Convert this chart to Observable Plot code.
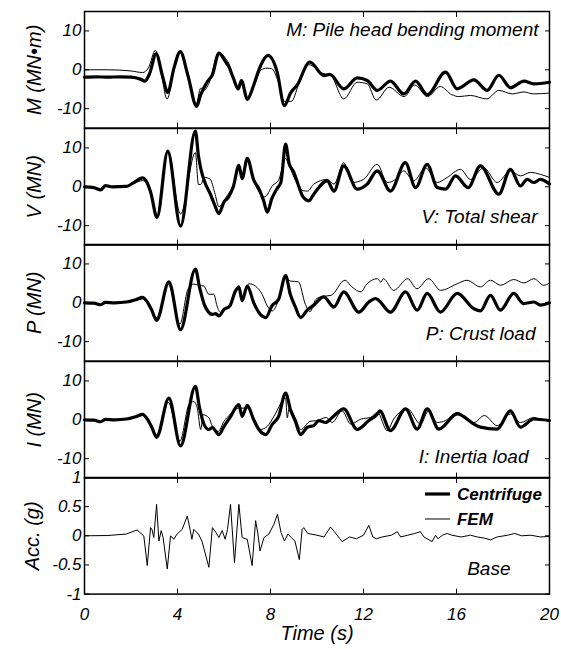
<!DOCTYPE html>
<html><head><meta charset="utf-8">
<script src="https://cdn.jsdelivr.net/npm/d3@7"></script>
<script src="https://cdn.jsdelivr.net/npm/@observablehq/plot@0.6"></script>
<style>
body{margin:0;background:#fff;}
#chart{position:relative;width:561px;height:649px;overflow:hidden;}
#chart svg{position:absolute;left:0;}
</style></head><body><div id="chart"></div>
<script>
// ---- tick labels ----
const timeTicks = [0, 4, 8, 12, 16, 20];
const forceTicks = [-10, 0, 10];
const accTicks = [-1, -0.5, 0, 0.5, 1];

// ---- M: pile head bending moment (MN·m), [time s, value] ----
const mCentrifuge = [[0,-1.9],[0.5,-1.8],[1.0,-1.9],[1.5,-1.8],[2.0,-1.9],[2.4,-2.4],[2.6,-2.9],[2.8,-1.0],[3.08,4.1],[3.35,-1.5],[3.58,-5.8],[3.85,0.5],[4.12,4.7],[4.45,-1.5],[4.82,-9.4],[5.0,-6.4],[5.29,-3.0],[5.5,-1.3],[5.78,4.3],[6.06,2.1],[6.2,0.9],[6.4,-2.1],[6.61,-4.9],[6.75,-2.8],[7.0,-7.5],[7.28,-3.9],[7.5,0],[7.9,3.7],[8.28,-0.4],[8.6,-9.2],[8.86,-6.0],[9.15,-3.9],[9.69,2.0],[10.3,-1.5],[10.55,-1.2],[11.15,-4.9],[11.73,-2.1],[12.16,-2.75],[12.59,-5.3],[13.16,-2.9],[13.73,-6.2],[14.24,-2.9],[14.74,-6.4],[15.53,-0.6],[16.03,-4.9],[16.75,-2.6],[17.32,-5.3],[17.82,-1.4],[18.32,-4.6],[18.9,-2.9],[19.33,-3.6],[20,-3.2]];
const mFEM = [[0,0],[1,0],[2,-0.3],[2.5,-0.7],[2.75,0.5],[3.05,5.0],[3.3,-1.0],[3.55,-7.5],[3.85,0],[4.1,4.7],[4.45,-1.0],[4.8,-8.8],[5.0,-4.7],[5.15,-5.2],[5.35,-3.5],[5.78,4.5],[6.06,3.0],[6.25,1.0],[6.4,-2.0],[6.6,-5.2],[6.75,-3.0],[7.0,-8.0],[7.3,-4.0],[7.6,0],[7.85,0.4],[8.05,0.3],[8.3,-2.5],[8.6,-8.1],[8.9,-8.1],[9.2,-4.0],[9.65,1.3],[10.2,-0.8],[10.6,-1.5],[11.15,-7.5],[11.73,-3.2],[12.16,-3.6],[12.55,-7.8],[13.1,-4.5],[13.75,-6.9],[14.2,-3.9],[14.75,-6.9],[15.3,-4.3],[15.8,-6.4],[16.1,-6.9],[16.6,-6.6],[17.3,-7.5],[17.82,-5.3],[18.4,-6.2],[18.9,-5.7],[19.3,-6.2],[20,-6.0]];

// ---- V: total shear (MN) ----
const vCentrifuge = [[0,0],[0.4,-0.2],[0.7,-0.8],[0.9,0.3],[1.2,0],[1.8,0.1],[2.1,1.0],[2.5,2.3],[2.65,1.5],[2.85,-1.5],[3.12,-7.9],[3.58,9.2],[4.13,-10.1],[4.77,14.3],[4.9,8],[5.0,4.7],[5.2,0.8],[5.4,-1.7],[5.6,-4.7],[5.78,-6.9],[6.0,-3.9],[6.2,-2.6],[6.4,0],[6.64,5.5],[6.78,2.1],[7.0,7.3],[7.28,1.7],[7.5,-0.5],[7.7,-3.5],[7.86,-6.5],[8.06,-3.0],[8.28,-0.5],[8.45,1.2],[8.65,11.0],[8.8,6.0],[9.0,3.8],[9.2,0.4],[9.4,-2.6],[9.65,-3.6],[9.86,-1.9],[10.44,1.5],[10.73,-1.1],[11.15,5.4],[11.73,-0.6],[12.16,0.7],[12.59,4.1],[13.16,-1.1],[13.8,6.2],[14.24,-0.2],[14.74,5.8],[15.17,-0.2],[15.53,-0.6],[15.96,2.8],[16.5,-0.2],[17.03,5.4],[17.82,-1.9],[18.32,4.5],[18.75,0.2],[19.04,1.9],[19.33,1.1],[19.6,1.9],[20,0.7]];
const vFEM = [[0,0],[0.4,-0.2],[0.7,-0.6],[0.9,0.2],[1.2,0],[1.8,0.1],[2.1,0.8],[2.5,1.6],[2.65,1.0],[2.85,-1.5],[3.12,-7.5],[3.58,8.8],[4.13,-7.0],[4.77,8.8],[4.9,0.6],[5.0,0.6],[5.15,2.4],[5.4,2.0],[5.6,-1.5],[5.78,-5.1],[6.1,-2.6],[6.4,0.5],[6.64,5.0],[6.78,2.3],[7.0,6.8],[7.28,1.5],[7.55,-1.7],[7.75,-2.6],[8.1,0.4],[8.35,1.7],[8.65,7.3],[8.8,5.5],[9.1,1.3],[9.4,-1.0],[9.6,-1.1],[9.86,0.7],[10.44,1.9],[10.73,0.7],[11.15,6.2],[11.51,1.1],[12.0,1.9],[12.59,5.8],[13.02,1.1],[13.38,1.9],[13.73,4.1],[14.16,1.5],[14.67,4.9],[15.17,1.1],[15.6,2.4],[16.17,4.5],[16.6,1.9],[17.17,4.9],[17.75,1.1],[18.32,4.1],[18.75,2.8],[19.18,3.7],[19.61,3.2],[20,2.4]];

// ---- P: crust load (MN) ----
const pCentrifuge = [[0,0],[0.4,-0.1],[0.7,-0.5],[0.9,0.1],[1.3,0],[1.8,0.2],[2.2,0.8],[2.5,1.4],[2.7,0.2],[2.9,-2.0],[3.1,-4.5],[3.63,5.4],[4.13,-6.9],[4.77,8.7],[4.95,3.9],[5.15,-0.4],[5.3,-2.1],[5.5,-3.0],[5.65,-2.8],[5.78,-3.4],[6.0,-1.7],[6.25,-0.8],[6.49,3.0],[6.64,4.1],[6.78,0.5],[7.0,4.3],[7.28,0],[7.5,-2.5],[7.8,-3.8],[8.06,-0.8],[8.35,0.9],[8.65,7.0],[8.85,2.2],[9.05,-0.8],[9.3,-3.8],[9.58,-1.9],[9.86,-0.6],[10.29,1.5],[10.73,-1.1],[11.15,2.8],[11.8,-2.4],[12.23,0.2],[12.52,1.1],[12.66,0.6],[13.16,-2.4],[13.81,2.8],[14.31,-1.9],[14.74,2.4],[15.31,-2.4],[16.03,2.4],[16.74,-1.5],[17.03,-2.1],[17.46,1.9],[17.89,-1.9],[18.46,2.4],[18.89,-0.2],[19.33,0.2],[19.61,-0.6],[20,0]];
const pFEM = [[0,0],[0.4,-0.1],[0.7,-0.4],[0.9,0.1],[1.3,0],[1.8,0.1],[2.2,0.6],[2.5,1.0],[2.7,0],[2.9,-2.0],[3.1,-3.8],[3.6,4.8],[4.1,-5.5],[4.45,3.5],[4.7,4.8],[4.95,4.5],[5.13,4.3],[5.35,2.2],[5.56,2.2],[5.7,-0.8],[5.85,-2.5],[6.05,-1.7],[6.25,-0.4],[6.5,2.8],[6.64,4.0],[6.8,1.0],[7.07,4.9],[7.35,4.3],[7.64,2.2],[7.86,-0.8],[8.07,-2.1],[8.43,2.2],[8.65,6.5],[8.86,5.6],[9.2,5.4],[9.5,-0.4],[9.7,-2.3],[9.94,0.8],[10.2,1.6],[10.6,1.9],[11.2,5.8],[11.5,4.1],[11.9,2.8],[12.1,4.5],[12.6,6.2],[12.75,5.3],[12.85,6.2],[13.3,3.2],[13.9,6.2],[14.3,3.6],[14.8,6.2],[15.32,3.2],[16.03,4.9],[16.45,5.8],[17.03,4.1],[17.46,5.8],[17.9,4.5],[18.46,6.0],[18.9,5.1],[19.33,6.2],[19.75,4.5],[20,5.1]];

// ---- I: inertia load (MN) ----
const iCentrifuge = [[0,0],[0.4,-0.1],[0.7,-0.5],[0.9,0.1],[1.3,0],[1.8,0.2],[2.2,0.8],[2.5,1.4],[2.7,0.2],[2.9,-2.0],[3.1,-4.5],[3.63,5.6],[4.13,-6.7],[4.77,8.6],[4.95,3.0],[5.15,-1.3],[5.35,-2.5],[5.5,-2.0],[5.78,-3.8],[6.0,-1.7],[6.25,0.5],[6.64,3.9],[6.78,0.9],[7.0,3.7],[7.28,0],[7.5,-2.5],[7.8,-3.8],[8.06,-1.3],[8.35,0.9],[8.65,6.9],[8.86,2.6],[9.07,-0.4],[9.29,-3.8],[9.58,-1.9],[9.86,-1.5],[10.08,-0.2],[10.37,-0.7],[10.65,0.6],[11.15,2.8],[11.73,-2.5],[12.23,-0.2],[12.6,1.5],[12.7,2.3],[13.16,-2.8],[13.81,2.8],[14.31,-2.4],[14.74,2.8],[15.24,-2.4],[16.03,1.5],[16.75,-1.1],[17.03,-1.9],[17.75,-2.4],[18.32,2.3],[18.75,-1.9],[19.33,0.2],[20,-0.2]];
const iFEM = [[0,0],[0.4,-0.1],[0.7,-0.4],[0.9,0.1],[1.3,0],[1.8,0.1],[2.2,0.6],[2.5,1.1],[2.7,0],[2.9,-2.0],[3.1,-3.8],[3.6,4.5],[4.1,-5.5],[4.5,4.0],[4.7,4.7],[4.85,3.0],[5.0,-2.5],[5.1,1.3],[5.35,0.5],[5.5,-1.7],[5.75,-3.0],[6.0,-0.4],[6.25,1.3],[6.64,3.0],[7.0,3.0],[7.28,0.4],[7.55,-2.5],[7.86,-1.7],[8.15,0.9],[8.65,5.6],[8.72,0.5],[8.8,3.0],[9.1,0],[9.3,-2.5],[9.7,-0.4],[10.0,-0.2],[10.4,0.6],[10.65,-0.7],[11.08,2.3],[11.45,-1.1],[11.9,0.2],[12.3,0.6],[12.6,1.9],[13.02,-2.8],[13.3,0.2],[13.65,2.3],[13.9,2.8],[14.45,-1.1],[14.8,2.3],[15.17,-0.7],[15.53,-0.2],[16.03,1.9],[16.75,-0.7],[17.2,1.1],[17.75,-1.5],[18.32,1.5],[18.75,-0.7],[19.33,0.6],[19.75,-0.2],[20,0.2]];

// ---- Base acceleration (g) ----
const baseAcc = [[0,0],[1.0,0.005],[1.8,0.03],[2.26,0.1],[2.4,0.05],[2.55,0],[2.7,-0.51],[2.84,0.14],[2.9,0.11],[2.98,-0.03],[3.1,0.54],[3.2,-0.09],[3.3,0.09],[3.38,-0.03],[3.56,-0.57],[3.7,0],[3.84,-0.06],[3.98,0.03],[4.2,0.11],[4.42,0.34],[4.55,0.09],[4.62,-0.06],[4.7,0.11],[4.9,0.03],[5.05,-0.09],[5.35,-0.54],[5.5,0.14],[5.65,0.06],[5.78,-0.03],[5.92,0.09],[6.05,-0.06],[6.15,0.11],[6.28,0.54],[6.45,-0.46],[6.64,0.54],[6.78,-0.03],[7.0,-0.06],[7.21,-0.51],[7.36,0.26],[7.46,0.03],[7.55,-0.26],[7.72,-0.03],[7.93,0.03],[8.15,0.2],[8.3,0.37],[8.45,0.06],[8.6,-0.09],[8.75,0.03],[8.9,-0.03],[9.05,-0.09],[9.24,-0.41],[9.36,0.11],[9.43,0.14],[9.6,0.04],[10.0,0.01],[10.3,-0.02],[10.58,0.15],[10.75,0.07],[11.08,-0.1],[11.4,-0.02],[11.7,-0.05],[12.0,0.01],[12.23,0.18],[12.4,-0.02],[12.55,-0.05],[12.8,-0.02],[13.2,0.01],[13.45,0.07],[13.6,-0.02],[13.9,0.01],[14.2,0.04],[14.45,0.07],[14.6,-0.02],[14.95,-0.1],[15.1,0.01],[15.2,-0.05],[15.4,0.01],[15.6,0.04],[15.8,0.01],[16.2,-0.02],[16.6,0.01],[16.9,-0.02],[17.2,-0.04],[17.46,-0.07],[17.75,-0.02],[18.2,0.01],[18.5,0.04],[18.8,0.0],[19.2,0.01],[19.6,-0.02],[20,-0.01]];

const seriesNames = ["Centrifuge", "FEM"];
const panelLabels = ["M (MN\u2022m)", "V (MN)", "P (MN)", "I (MN)", "Acc. (g)"];
const panelNotes = ["M: Pile head bending moment", "V: Total shear", "P: Crust load", "I: Inertia load", "Base"];

// ---- layout ----
const W = 561, ML = 84, MR = 12;
const panelTops = [11, 127.6, 244.2, 360.8, 477.4];
const panelH = 116.6;
const FONT = "'Liberation Sans', Arial, Helvetica, sans-serif";
const fmt = d => String(d);
const blank = () => "";

const panels = [
  {label: panelLabels[0], note: panelNotes[0], lines: [mCentrifuge, mFEM], y: [-15, 15], ticks: forceTicks, noteAnchor: "top-right", ndx: -11, ndy: 18, ldx: -50},
  {label: panelLabels[1], note: panelNotes[1], lines: [vCentrifuge, vFEM], y: [-15, 15], ticks: forceTicks, noteAnchor: "bottom-right", ndx: -12, ndy: -28, ldx: -50},
  {label: panelLabels[2], note: panelNotes[2], lines: [pCentrifuge, pFEM], y: [-15, 15], ticks: forceTicks, noteAnchor: "bottom-right", ndx: -14, ndy: -27, ldx: -50},
  {label: panelLabels[3], note: panelNotes[3], lines: [iCentrifuge, iFEM], y: [-15, 15], ticks: forceTicks, noteAnchor: "bottom-right", ndx: -21, ndy: -21.5, ldx: -50},
  {label: panelLabels[4], note: panelNotes[4], lines: [null, baseAcc], y: [-1, 1], ticks: accTicks, noteAnchor: "bottom-right", ndx: -39, ndy: -25.5, ldx: -52, last: true}
];

const chart = document.getElementById("chart");
panels.forEach((p, i) => {
  const mt = 12, mb = p.last ? 60 : 12;
  const marks = [
    Plot.axisX({anchor: "bottom", ticks: timeTicks, tickSize: -5, tickPadding: p.last ? 19 : 0, tickFormat: p.last ? fmt : blank, label: null, fontSize: 17}),
    Plot.axisX({anchor: "top", ticks: timeTicks, tickSize: -5, tickFormat: blank, label: null}),
    Plot.axisY({anchor: "left", ticks: p.ticks, tickSize: -5, tickPadding: 8, tickFormat: fmt, label: null, fontSize: 17}),
    Plot.axisY({anchor: "right", ticks: p.ticks, tickSize: -5, tickFormat: blank, label: null})
  ];
  if (p.lines[1]) marks.push(Plot.line(p.lines[1], {x: d => d[0], y: d => d[1], stroke: "#000", strokeWidth: 1, curve: p.last ? "linear" : "monotone-x"}));
  if (p.lines[0]) marks.push(Plot.line(p.lines[0], {x: d => d[0], y: d => d[1], stroke: "#000", strokeWidth: 3.2, curve: "monotone-x", strokeLinejoin: "round"}));
  marks.push(Plot.frame({stroke: "#000", strokeWidth: 1.5}));
  marks.push(Plot.text([p.label], {frameAnchor: "left", dx: p.ldx, rotate: -90, fontSize: 20, lineAnchor: "middle", textAnchor: "middle"}));
  marks.push(Plot.text([p.note], {frameAnchor: p.noteAnchor, dx: p.ndx, dy: p.ndy, textAnchor: "end", lineAnchor: "middle", fontSize: 19}));
  if (p.last) marks.push(Plot.text(["Time (s)"], {frameAnchor: "bottom", dy: 39, fontSize: 20, lineAnchor: "middle"}));

  const svg = Plot.plot({
    width: W, height: panelH + mt + mb,
    marginLeft: ML, marginRight: MR, marginTop: mt, marginBottom: mb,
    style: {fontFamily: FONT, fontStyle: "italic", fontSize: "17px", color: "#000", background: "transparent", overflow: "visible"},
    x: {domain: [0, 20]},
    y: {domain: p.y},
    marks
  });
  svg.style.top = (panelTops[i] - mt) + "px";
  chart.appendChild(svg);

  if (p.last) {
    // legend key
    const g = d3.select(svg).append("g").attr("font-family", FONT).attr("font-style", "italic").attr("font-weight", "bold").attr("font-size", 17).attr("text-anchor", "start");
    const rows = [{name: seriesNames[0], w: 3.2, dy: 17}, {name: seriesNames[1], w: 1, dy: 42}];
    rows.forEach(r => {
      const yy = mt + r.dy;
      g.append("line").attr("x1", 425).attr("x2", 450).attr("y1", yy).attr("y2", yy).attr("stroke", "#000").attr("stroke-width", r.w);
      g.append("text").attr("x", 457).attr("y", yy).attr("dy", "0.35em").attr("text-anchor", "start").text(r.name);
    });
  }
});
</script></body></html>
